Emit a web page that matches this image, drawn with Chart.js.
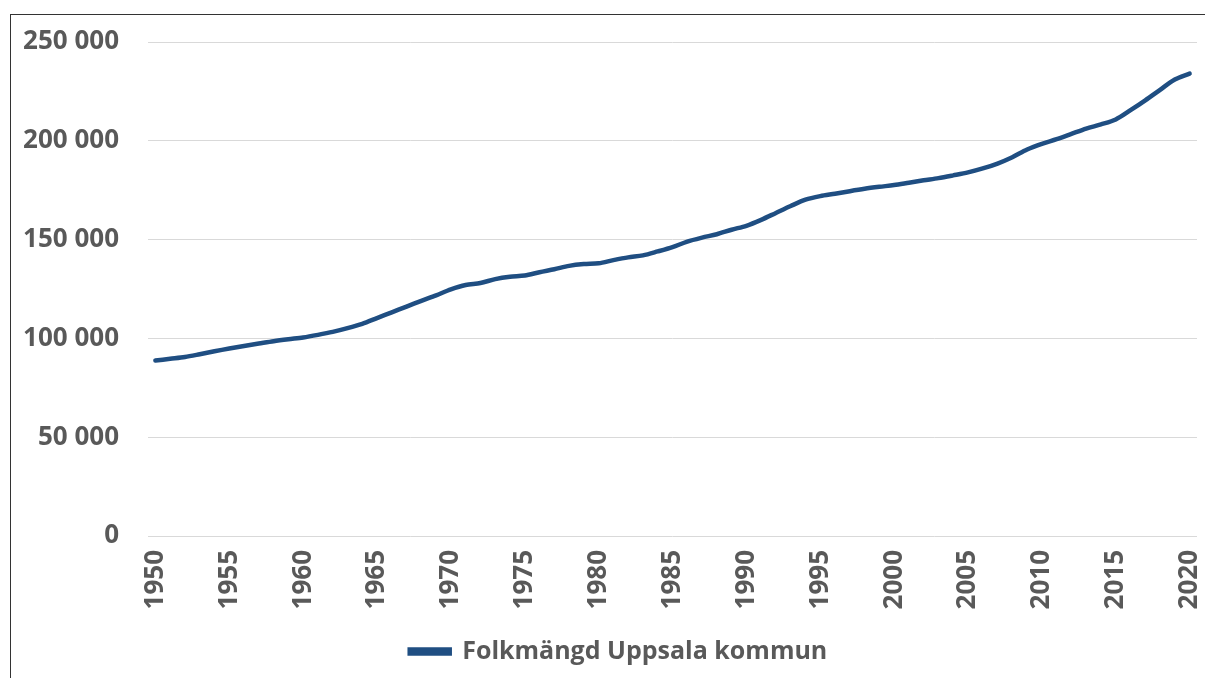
<!DOCTYPE html>
<html lang="sv">
<head>
<meta charset="utf-8">
<title>Folkmängd Uppsala kommun</title>
<script src="https://cdn.jsdelivr.net/npm/chart.js@4/dist/chart.umd.min.js"></script>
<style>
  html, body { margin: 0; padding: 0; background: #fff; }
  .wrap { position: relative; width: 1205px; height: 678px; overflow: hidden; }
  .frame {
    position: absolute; left: 10px; top: 14px; right: -2px; bottom: -2px;
    border-left: 1px solid #333; border-top: 1px solid #333;
    pointer-events: none;
  }
  canvas { position: absolute; left: 0; top: 0; }
</style>
</head>
<body>
<div class="wrap">
  <canvas id="chartCanvas" width="1205" height="678"></canvas>
  <div class="frame"></div>
</div>
<script>
// Years 1950-2020
const years = [
  1950, 1951, 1952, 1953, 1954, 1955, 1956, 1957, 1958, 1959,
  1960, 1961, 1962, 1963, 1964, 1965, 1966, 1967, 1968, 1969,
  1970, 1971, 1972, 1973, 1974, 1975, 1976, 1977, 1978, 1979,
  1980, 1981, 1982, 1983, 1984, 1985, 1986, 1987, 1988, 1989,
  1990, 1991, 1992, 1993, 1994, 1995, 1996, 1997, 1998, 1999,
  2000, 2001, 2002, 2003, 2004, 2005, 2006, 2007, 2008, 2009,
  2010, 2011, 2012, 2013, 2014, 2015, 2016, 2017, 2018, 2019,
  2020
];

// Folkmängd
const population = [
  88800, 89700, 90600, 92000, 93500, 94900, 96200, 97400, 98600, 99600,
  100500, 101800, 103300, 105200, 107400, 110300, 113200, 116100, 119000, 121800,
  124800, 127000, 128000, 130000, 131200, 131800, 133500, 135000, 136700, 137600,
  138000, 139600, 141000, 142000, 144000, 146200, 149000, 151000, 152700, 155000,
  157000, 160000, 163500, 167000, 170200, 172000, 173200, 174500, 175700, 176700,
  177600, 178800, 180000, 181100, 182500, 184000, 186000, 188500, 191700, 195600,
  198500, 200800, 203500, 206200, 208300, 210800, 215500, 220500, 225800, 231000,
  234000
];

const yTicks = [0, 50000, 100000, 150000, 200000, 250000];
const seriesLabel = 'Folkmängd Uppsala kommun';

const lineColor = '#1f4e82';
const textColor = '#595959';
const fontFamily = '"Open Sans", "Noto Sans", sans-serif';
const tickFont = { family: fontFamily, size: 26, weight: 'bold' };
const legendFont = { family: fontFamily, size: 25, weight: 'bold' };

function spaced(v) {
  return String(v).replace(/\B(?=(\d{3})+(?!\d))/g, ' ');
}

// the legend sits a little right of centre in the original
const legendShift = {
  id: 'legendShift',
  afterLayout(chart) {
    if (chart.legend) {
      chart.legend.left += 20;
      chart.legend.right += 20;
    }
  },
};

const ctx = document.getElementById('chartCanvas').getContext('2d');
new Chart(ctx, {
  type: 'line',
  data: {
    labels: years,
    datasets: [{
      label: seriesLabel,
      data: population,
      borderColor: lineColor,
      backgroundColor: lineColor,
      borderWidth: 4.5,
      pointRadius: 0,
      tension: 0.3,
      borderCapStyle: 'round',
    }],
  },
  options: {
    responsive: false,
    animation: false,
    layout: { padding: { left: 0, right: 8, top: 42, bottom: 4 } },
    plugins: {
      legend: {
        position: 'bottom',
        labels: {
          color: textColor,
          font: legendFont,
          boxWidth: 40,
          boxHeight: 4,
          padding: 4,
        },
      },
      tooltip: { enabled: false },
    },
    scales: {
      x: {
        type: 'category',
        offset: true,
        grid: { display: false, drawTicks: false },
        border: { display: false },
        ticks: {
          color: textColor,
          font: tickFont,
          autoSkip: false,
          minRotation: 90,
          maxRotation: 90,
          padding: 14,
          callback: function (val, i) {
            const y = years[i];
            return y % 5 === 0 ? String(y) : '';
          },
        },
        afterFit: axis => {
          axis.paddingLeft = 0;
          axis.paddingRight = 0;
          axis.height = 99;
        },
      },
      y: {
        min: 0,
        max: 250000,
        grid: { color: '#d9d9d9', lineWidth: 1, drawTicks: false },
        border: { display: false },
        afterBuildTicks: axis => {
          axis.ticks = yTicks.map(v => ({ value: v }));
        },
        ticks: {
          color: textColor,
          font: tickFont,
          padding: 29,
          callback: v => spaced(v),
        },
        afterFit: axis => {
          axis.width = 148;
          axis.paddingTop = 0;
          axis.paddingBottom = 0;
        },
      },
    },
  },
  plugins: [legendShift],
});
</script>
</body>
</html>
